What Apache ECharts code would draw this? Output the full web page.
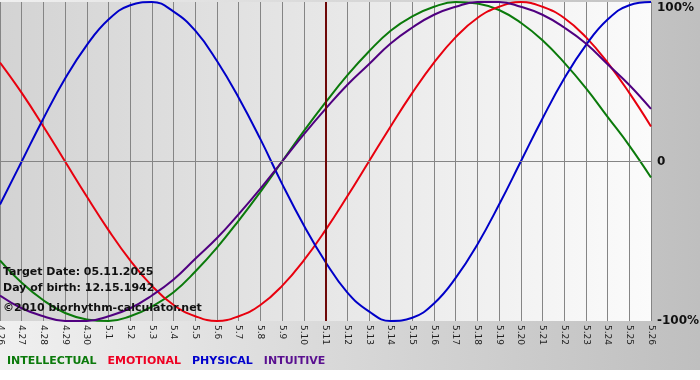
<!DOCTYPE html>
<html>
<head>
<meta charset="utf-8">
<script src="https://cdn.jsdelivr.net/npm/echarts@6/dist/echarts.min.js"></script>
<style>
  html, body { margin: 0; padding: 0; background: #fff; }
  #chart { width: 700px; height: 380px; }
</style>
</head>
<body>
<div id="chart"></div>
<script>
// days shown on the x axis (month.day)
const days = ['4.26', '4.27', '4.28', '4.29', '4.30',
  '5.1', '5.2', '5.3', '5.4', '5.5', '5.6', '5.7', '5.8', '5.9', '5.10',
  '5.11', '5.12', '5.13', '5.14', '5.15', '5.16', '5.17', '5.18', '5.19', '5.20',
  '5.21', '5.22', '5.23', '5.24', '5.25', '5.26']
const targetDay = '5.11'

// values in percent per day
const intellectual = [-62, -76, -87, -95, -99, -100, -97, -91, -82, -69, -54, -37, -19, 0, 19,
  37, 54, 69, 82, 91, 97, 100, 99, 95, 87, 76, 62, 46, 28, 10, -10]
const emotional = [62, 43, 22, 0, -22, -43, -62, -78, -90, -97, -100, -97, -90, -78, -62,
  -43, -22, 0, 22, 43, 62, 78, 90, 97, 100, 97, 90, 78, 62, 43, 22]
const physical = [-27, 0, 27, 52, 73, 89, 98, 100, 94, 82, 63, 40, 14, -14, -40,
  -63, -82, -94, -100, -98, -89, -73, -52, -27, 0, 27, 52, 73, 89, 98, 100]
const intuitive = [-84, -92, -97, -100, -100, -97, -92, -84, -74, -61, -48, -33, -17, 0, 17,
  33, 48, 61, 74, 84, 92, 97, 100, 100, 97, 92, 84, 74, 61, 48, 33]

const yTicks = [-100, 0, 100]

const chart = echarts.init(document.getElementById('chart'))

function line(name, data, color) {
  return {
    name: name,
    type: 'line',
    data: data,
    smooth: 0.45,
    symbol: 'none',
    lineStyle: { color: color, width: 2 },
    itemStyle: { color: color }
  }
}

const series = [
  line('INTELLECTUAL', intellectual, '#0b7a0b'),
  line('EMOTIONAL', emotional, '#e8000e'),
  line('PHYSICAL', physical, '#0000c8'),
  line('INTUITIVE', intuitive, '#500080')
]
// zero line and target date marker
series[0].markLine = {
  silent: true,
  symbol: 'none',
  label: { show: false },
  data: [
    { yAxis: 0, lineStyle: { color: '#858585', width: 1, type: 'solid' } },
    { xAxis: targetDay, lineStyle: { color: '#6e0808', width: 2, type: 'solid' } }
  ]
}

const option = {
  animation: false,
  backgroundColor: new echarts.graphic.LinearGradient(0, 0, 1, 0, [
    { offset: 0, color: '#f0f0f0' },
    { offset: 1, color: '#bfbfbf' }
  ]),
  textStyle: { fontFamily: 'DejaVu Sans' },
  grid: {
    left: 0, right: 49, top: 2, bottom: 59,
    outerBoundsMode: 'none',
    containLabel: false,
    show: true,
    borderWidth: 0,
    backgroundColor: new echarts.graphic.LinearGradient(0, 0, 1, 0, [
      { offset: 0, color: '#d3d3d3' },
      { offset: 1, color: '#fbfbfb' }
    ])
  },
  legend: {
    left: 2, top: 356,
    padding: 0,
    icon: 'none',
    itemWidth: 0, itemHeight: 10,
    itemGap: 6,
    selectedMode: false,
    textStyle: { fontSize: 11, fontWeight: 'bold', fontFamily: 'DejaVu Sans' },
    data: [
      { name: 'INTELLECTUAL', textStyle: { color: '#0b7a0b' } },
      { name: 'EMOTIONAL', textStyle: { color: '#ee0022' } },
      { name: 'PHYSICAL', textStyle: { color: '#0000cc' } },
      { name: 'INTUITIVE', textStyle: { color: '#5a1090' } }
    ]
  },
  xAxis: {
    type: 'category',
    data: days,
    boundaryGap: false,
    axisLine: { show: true, lineStyle: { color: '#858585', width: 1 } },
    axisTick: { show: true, length: 4, interval: 0, lineStyle: { color: '#858585' } },
    axisLabel: {
      interval: 0, rotate: -90, margin: 4,
      fontSize: 9, color: '#222', fontFamily: 'DejaVu Sans'
    },
    splitLine: { show: true, interval: 0, lineStyle: { color: '#858585', width: 1 } }
  },
  yAxis: {
    type: 'value',
    position: 'right',
    min: yTicks[0], max: yTicks[yTicks.length - 1], interval: 100,
    axisLine: { show: false },
    axisTick: { show: false },
    splitLine: { show: false },
    axisLabel: {
      margin: 6,
      fontSize: 12, fontWeight: 'bold', color: '#111', fontFamily: 'DejaVu Sans',
      verticalAlignMaxLabel: 'top',
      formatter: v => v === 0 ? '0' : v + '%'
    }
  },
  graphic: [
    { type: 'rect', left: 0, top: 370, z: -10, shape: { width: 700, height: 10 }, style: { fill: '#ffffff' } },
    { type: 'text', left: 3, top: 267, z: 10, style: { text: 'Target Date: 05.11.2025', font: 'bold 11px "DejaVu Sans"', fill: '#111' } },
    { type: 'text', left: 3, top: 283, z: 10, style: { text: 'Day of birth: 12.15.1942', font: 'bold 11px "DejaVu Sans"', fill: '#111' } },
    { type: 'text', left: 3, top: 303, z: 10, style: { text: '©2010 biorhythm-calculator.net', font: 'bold 11px "DejaVu Sans"', fill: '#111' } }
  ],
  series: series
}

chart.setOption(option)
window.addEventListener('resize', function () {
  chart.resize()
})
</script>
</body>
</html>
